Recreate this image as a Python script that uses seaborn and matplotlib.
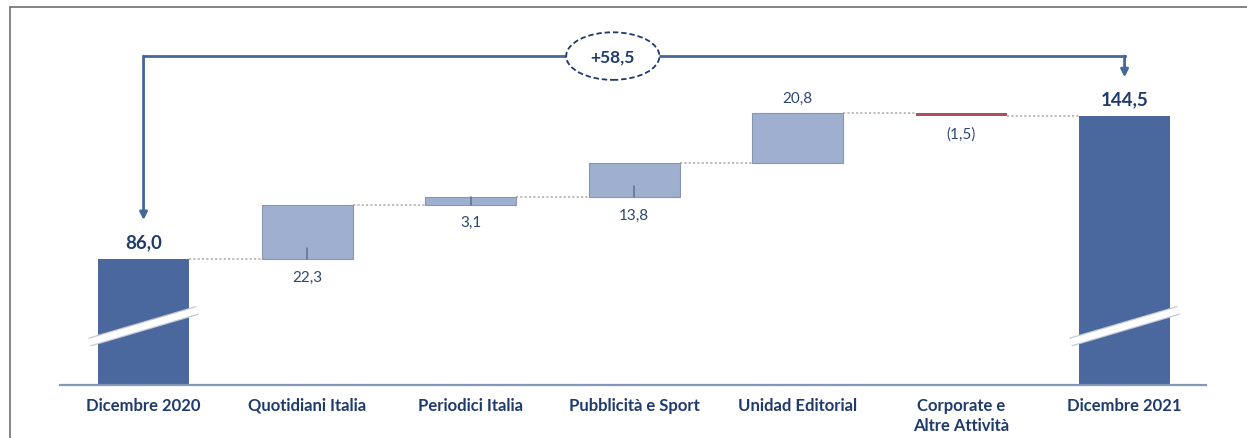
import numpy as np
import pandas as pd
import matplotlib
matplotlib.use("Agg")
import matplotlib.pyplot as plt
from matplotlib.patches import Ellipse
from matplotlib.lines import Line2D
import seaborn as sns

# ---- data ----
CATEGORIES = [
    "Dicembre 2020",
    "Quotidiani Italia",
    "Periodici Italia",
    "Pubblicità e Sport",
    "Unidad Editorial",
    "Corporate e\nAltre Attività",
    "Dicembre 2021",
]
START_TOTAL = 86.0
DELTAS = [22.3, 3.1, 13.8, 20.8, -1.5]
END_TOTAL = 144.5
DELTA_LABEL_POS = ["below", "below", "below", "above", "below"]

# ---- styles ----
DARK = "#4a689d"
LIGHT = "#9eafcf"
LIGHT_EDGE = "#8795ad"
RED = "#b24b5b"
NAVY = "#1f3b6d"
LABEL = "#2d4773"
ARROW = "#46679b"
BAR_W = 0.556
BRACKET_Y = 169.2


def fmt(v):
    s = f"{abs(v):.1f}".replace(".", ",")
    return f"({s})" if v < 0 else s


running = START_TOTAL + np.concatenate([[0.0], np.cumsum(DELTAS)])
starts = running[:-1]

df_tot = pd.DataFrame({
    "cat": [CATEGORIES[0], CATEGORIES[-1]],
    "value": [START_TOTAL, END_TOTAL],
})
up_idx = [i for i, d in enumerate(DELTAS) if d >= 0]
dn_idx = [i for i, d in enumerate(DELTAS) if d < 0]
df_up = pd.DataFrame({
    "cat": [CATEGORIES[i + 1] for i in up_idx],
    "value": [DELTAS[i] for i in up_idx],
    "bottom": [starts[i] for i in up_idx],
})
df_dn = pd.DataFrame({
    "cat": [CATEGORIES[i + 1] for i in dn_idx],
    "value": [DELTAS[i] for i in dn_idx],
    "bottom": [starts[i] for i in dn_idx],
})

sns.set_style("white")
plt.rcParams["font.family"] = ["Lato", "DejaVu Sans"]

fig = plt.figure(figsize=(12.47, 4.39), dpi=100)
ax = fig.add_axes([60 / 1247, 53 / 439, 1146 / 1247, 366 / 439])

sns.barplot(data=df_tot, x="cat", y="value", order=CATEGORIES, color=DARK,
            width=BAR_W, edgecolor="none", linewidth=0, saturation=1,
            errorbar=None, ax=ax, zorder=2)
sns.barplot(data=df_up, x="cat", y="value", order=CATEGORIES, color=LIGHT,
            bottom=df_up["bottom"].values, width=BAR_W, edgecolor=LIGHT_EDGE,
            linewidth=0.8, saturation=1, errorbar=None, ax=ax, zorder=2)
sns.barplot(data=df_dn, x="cat", y="value", order=CATEGORIES, color=RED,
            bottom=df_dn["bottom"].values, width=BAR_W, edgecolor="none",
            linewidth=0, saturation=1, errorbar=None, ax=ax, zorder=2)

ax.set_xlim(-0.511, 6.498)
ax.set_ylim(34.4, 184.4)

# dotted connectors between bars
for i in range(len(CATEGORIES) - 1):
    ax.plot([i + BAR_W / 2, i + 1 - BAR_W / 2], [running[i], running[i]],
            ls=(0, (1.2, 1.2)), color="#bfb3b6", lw=1.3, zorder=1)

# small ticks inside rising bars + delta labels
for i, d in enumerate(DELTAS):
    x = i + 1
    lo = min(starts[i], starts[i] + d)
    hi = max(starts[i], starts[i] + d)
    if DELTA_LABEL_POS[i] == "below" and d > 0:
        ax.plot([x, x], [lo, lo + min(4.5, d)], color="#5b6f98", lw=1.1, zorder=3)
    if DELTA_LABEL_POS[i] == "below":
        ax.annotate(fmt(d), (x, lo), xytext=(0, -12.5), textcoords="offset points",
                    ha="center", va="center", fontsize=11, color=LABEL)
    else:
        ax.annotate(fmt(d), (x, hi), xytext=(0, 11), textcoords="offset points",
                    ha="center", va="center", fontsize=11, color=LABEL)

# total labels and axis breaks
for x, v in [(0, START_TOTAL), (len(CATEGORIES) - 1, END_TOTAL)]:
    ax.annotate(fmt(v), (x, v), xytext=(0, 12.5), textcoords="offset points",
                ha="center", va="center", fontsize=13.5, fontweight="bold", color=NAVY)
    ax.plot([x - 0.33, x + 0.33], [52.0, 65.0], color="#c3cad6", lw=6.6,
            solid_capstyle="butt", zorder=4)
    ax.plot([x - 0.33, x + 0.33], [52.0, 65.0], color="white", lw=4.8,
            solid_capstyle="butt", zorder=5)

# bracket with arrows and total change
last = len(CATEGORIES) - 1
ax.plot([0, last], [BRACKET_Y, BRACKET_Y], color=ARROW, lw=2.0, zorder=3,
        solid_capstyle="projecting")
for x, v in [(0, START_TOTAL), (last, END_TOTAL)]:
    ax.annotate("", xy=(x, v + 16), xytext=(x, BRACKET_Y),
                arrowprops=dict(arrowstyle="-|>", color=ARROW, lw=2.0,
                                mutation_scale=11, shrinkA=0, shrinkB=0),
                zorder=3)
ell = Ellipse((2.87, BRACKET_Y), width=0.57, height=19.5, facecolor="white",
              edgecolor=NAVY, lw=1.3, ls=(0, (3, 1.6)), zorder=6)
ax.add_patch(ell)
ax.text(2.87, BRACKET_Y, "+" + fmt(END_TOTAL - START_TOTAL), ha="center",
        va="center", fontsize=12.5, fontweight="bold", color=NAVY, zorder=7)

# axes styling
for side in ["left", "right", "top"]:
    ax.spines[side].set_visible(False)
ax.spines["bottom"].set_color("#8497b8")
ax.spines["bottom"].set_linewidth(1.6)
ax.set_yticks([])
ax.set_xticks(range(len(CATEGORIES)))
ax.set_xticklabels(CATEGORIES, fontsize=12, fontweight="bold", color=NAVY,
                   linespacing=1.3)
ax.tick_params(axis="x", length=0, pad=8.5)
ax.set_xlabel("")
ax.set_ylabel("")

# outer frame (left and top edges only)
fx, fy = 10 / 1247, 1 - 8 / 439
fig.add_artist(Line2D([fx, fx], [0, fy], color="#6e6e6e", lw=1.2))
fig.add_artist(Line2D([fx, 1], [fy, fy], color="#6e6e6e", lw=1.2))

fig.savefig("out.png", dpi=100)
